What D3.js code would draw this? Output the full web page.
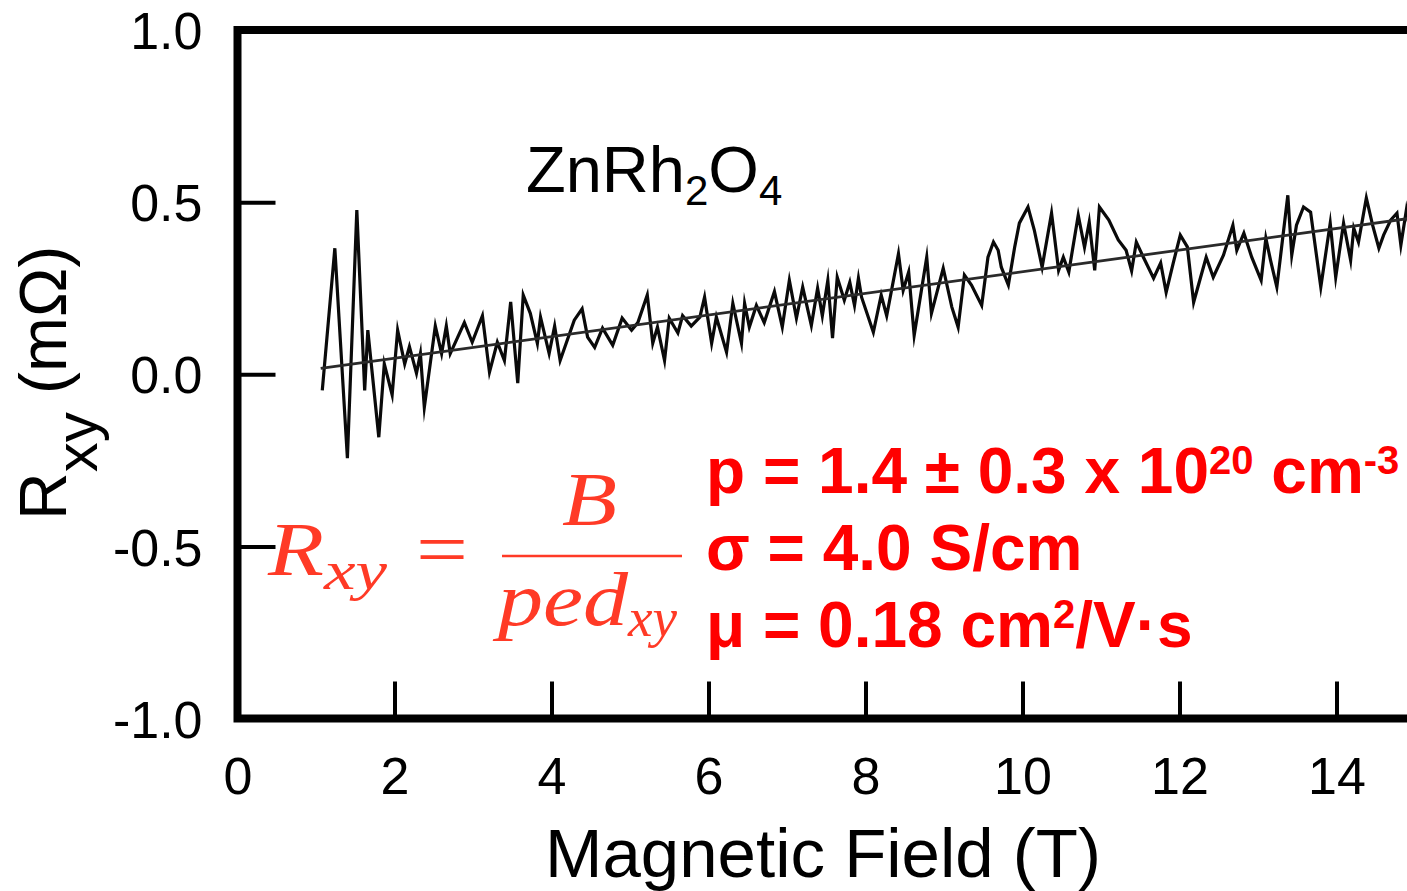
<!DOCTYPE html>
<html><head><meta charset="utf-8">
<script src="https://cdn.jsdelivr.net/npm/d3@7"></script>
<style>body{margin:0;background:#fff}svg{display:block;background:#fff}</style>
</head><body><svg id="c" width="1407" height="891"></svg>
<script>
// ---- data ----
const fieldT = [1.08,1.24,1.40,1.52,1.62,1.66,1.80,1.87,1.97,2.04,2.13,2.19,2.28,2.33,2.38,2.52,2.60,2.66,2.71,2.89,2.99,3.12,3.21,3.31,3.40,3.48,3.57,3.64,3.73,3.82,3.86,3.97,4.04,4.11,4.29,4.39,4.46,
4.55,4.65,4.78,4.90,5.02,5.10,5.22,5.29,5.35,5.44,5.50,5.61,5.67,5.78,5.89,5.95,6.04,6.10,6.23,6.31,6.42,6.46,6.52,6.61,6.71,6.84,6.94,7.03,7.12,7.20,7.31,7.39,7.45,7.52,7.58,7.64,7.73,7.80,7.86,7.91,
7.95,8.10,8.20,8.27,8.42,8.48,8.55,8.62,8.78,8.84,8.99,9.10,9.18,9.26,9.35,9.48,9.56,9.63,9.69,9.73,9.82,9.90,9.96,10.07,10.15,10.25,10.37,10.46,10.52,10.59,10.71,10.79,10.85,10.92,10.98,11.10,11.22,11.32,11.39,
11.45,11.54,11.67,11.76,11.83,11.92,12.01,12.10,12.18,12.34,12.43,12.56,12.68,12.73,12.82,12.92,13.04,13.10,13.16,13.24,13.38,13.43,13.49,13.58,13.67,13.80,13.92,13.99,14.09,14.18,14.22,14.28,14.38,14.46,14.54,14.60,14.69,14.77,14.82,14.89,14.95,15.0];
const rxyMilliOhm = [-0.047,0.366,-0.244,0.477,-0.047,0.128,-0.183,0.03,-0.06,0.128,0.03,0.08,0.003,0.06,-0.096,0.14,0.06,0.14,0.06,0.15,0.093,0.17,0.006,0.093,0.04,0.21,-0.026,0.23,0.177,0.09,0.166,0.06,0.14,0.04,0.157,0.19,0.108,
0.078,0.134,0.084,0.163,0.128,0.15,0.23,0.09,0.137,0.04,0.163,0.12,0.17,0.14,0.166,0.224,0.09,0.166,0.064,0.206,0.09,0.206,0.137,0.2,0.15,0.24,0.137,0.273,0.163,0.253,0.142,0.25,0.17,0.273,0.105,0.282,0.215,0.267,0.2,0.279,
0.224,0.122,0.23,0.17,0.35,0.244,0.297,0.113,0.34,0.177,0.308,0.195,0.137,0.288,0.259,0.2,0.34,0.384,0.36,0.311,0.259,0.369,0.439,0.486,0.419,0.311,0.468,0.302,0.34,0.297,0.462,0.369,0.442,0.302,0.486,0.448,0.39,0.36,0.30,
0.384,0.34,0.279,0.323,0.238,0.323,0.404,0.37,0.209,0.34,0.282,0.346,0.433,0.36,0.41,0.34,0.273,0.395,0.331,0.253,0.52,0.346,0.433,0.486,0.471,0.253,0.439,0.282,0.439,0.331,0.424,0.384,0.512,0.433,0.366,0.404,0.448,0.468,0.375,0.477,0.40,0.44];
const fitField = [1.06, 15.0];
const fitRxy = [0.017, 0.455];
const xTickValues = [0, 2, 4, 6, 8, 10, 12, 14];
const yTickValues = [-1.0, -0.5, 0.0, 0.5, 1.0];
const xTitle = "Magnetic Field (T)";
const statLines = [
  {parts: [["p = 1.4 ± 0.3 x 10", 0], ["20", 1], [" cm", 0], ["-3", 1]]},
  {parts: [["σ = 4.0 S/cm", 0]]},
  {parts: [["μ = 0.18 cm", 0], ["2", 1], ["/V·s", 0]]}
];

// ---- drawing ----
const svg = d3.select("#c");
const sans = "'Liberation Sans', Arial, Helvetica, sans-serif";
const serif = "'Liberation Serif', 'Times New Roman', serif";
const x = d3.scaleLinear().domain([0, 15]).range([237.5, 1415]);
const y = d3.scaleLinear().domain([-1, 1]).range([718.5, 30]);

// data line
const pts = fieldT.map((b, i) => [b, rxyMilliOhm[i]]);
const line = d3.line().x(d => x(d[0])).y(d => y(d[1]));
svg.append("path").datum(pts).attr("d", line)
  .attr("fill", "none").attr("stroke", "#0a0a0a").attr("stroke-width", 3.2).attr("stroke-linejoin", "miter").attr("stroke-miterlimit", 10);
// fit line
svg.append("path").datum(fitField.map((b, i) => [b, fitRxy[i]])).attr("d", line)
  .attr("fill", "none").attr("stroke", "#2a2a2a").attr("stroke-width", 2.8);

// axes
const xAxis = d3.axisBottom(x).tickValues(xTickValues).tickSize(-37).tickPadding(39).tickFormat(d3.format("d"));
const gx = svg.append("g").attr("transform", "translate(0,718.5)").call(xAxis);
const yAxis = d3.axisLeft(y).tickValues(yTickValues).tickSize(-38).tickPadding(35).tickFormat(d => d.toFixed(1));
const gy = svg.append("g").attr("transform", "translate(237.5,0)").call(yAxis);
[gx, gy].forEach(g => {
  g.select(".domain").remove();
  g.selectAll(".tick line").attr("stroke", "#000").attr("stroke-width", 4);
  g.selectAll(".tick text").attr("fill", "#000").attr("font-family", sans).attr("font-size", 52);
});
gy.selectAll(".tick text").attr("dy", "0.36em");

// frame
svg.append("path").attr("d", `M1420,${y(1)}H${x(0)}V${y(-1)}H1420`)
  .attr("fill", "none").attr("stroke", "#000").attr("stroke-width", 8).attr("stroke-linejoin", "miter");

// x title
svg.append("text").attr("x", 823).attr("y", 877).attr("text-anchor", "middle")
  .attr("font-family", sans).attr("font-size", 69).attr("fill", "#000").text(xTitle);

// y title
const yt = svg.append("text").attr("transform", "translate(66,520) rotate(-90)")
  .attr("font-family", sans).attr("font-size", 66).attr("fill", "#000");
yt.append("tspan").text("R");
yt.append("tspan").attr("font-size", 60).attr("dy", 31).text("xy");
yt.append("tspan").attr("dy", -31).text(" (mΩ)");

// compound label
const zn = svg.append("text").attr("x", 526).attr("y", 192).attr("font-family", sans).attr("font-size", 65).attr("fill", "#000");
zn.append("tspan").text("ZnRh");
zn.append("tspan").attr("font-size", 42).attr("dy", 13).text("2");
zn.append("tspan").attr("dy", -13).text("O");
zn.append("tspan").attr("font-size", 42).attr("dy", 13).text("4");

// formula (LaTeX-like)
const fc = "#ff3a26";
const fm = svg.append("g").attr("fill", fc).attr("font-family", serif).attr("font-style", "italic");
fm.append("text").attr("x", 268).attr("y", 575).attr("font-size", 76).attr("textLength", 56).attr("lengthAdjust", "spacingAndGlyphs").text("R");
fm.append("text").attr("x", 324).attr("y", 589).attr("font-size", 54).attr("textLength", 63).attr("lengthAdjust", "spacingAndGlyphs").text("xy");
fm.append("text").attr("x", 416).attr("y", 575).attr("font-size", 76).attr("font-style", "normal").attr("textLength", 52).attr("lengthAdjust", "spacingAndGlyphs").text("=");
fm.append("text").attr("x", 562).attr("y", 525).attr("font-size", 76).attr("textLength", 55).attr("lengthAdjust", "spacingAndGlyphs").text("B");
fm.append("line").attr("x1", 502).attr("x2", 682).attr("y1", 556).attr("y2", 556).attr("stroke", fc).attr("stroke-width", 2.6);
fm.append("text").attr("x", 498).attr("y", 625).attr("font-size", 76).attr("textLength", 130).attr("lengthAdjust", "spacingAndGlyphs").text("ped");
fm.append("text").attr("x", 628).attr("y", 636).attr("font-size", 54).attr("textLength", 49).attr("lengthAdjust", "spacingAndGlyphs").text("xy");

// stats
const baselines = [493, 570, 647];
statLines.forEach((ln, i) => {
  const t = svg.append("text").attr("x", 706).attr("y", baselines[i])
    .attr("font-family", sans).attr("font-weight", "bold").attr("font-size", 64).attr("fill", "#ff0000");
  let up = false;
  ln.parts.forEach(([s, sup]) => {
    const ts = t.append("tspan").text(s);
    if (sup && !up) { ts.attr("font-size", 40).attr("dy", -19); up = true; }
    else if (!sup && up) { ts.attr("dy", 19); up = false; }
  });
});
</script></body></html>
